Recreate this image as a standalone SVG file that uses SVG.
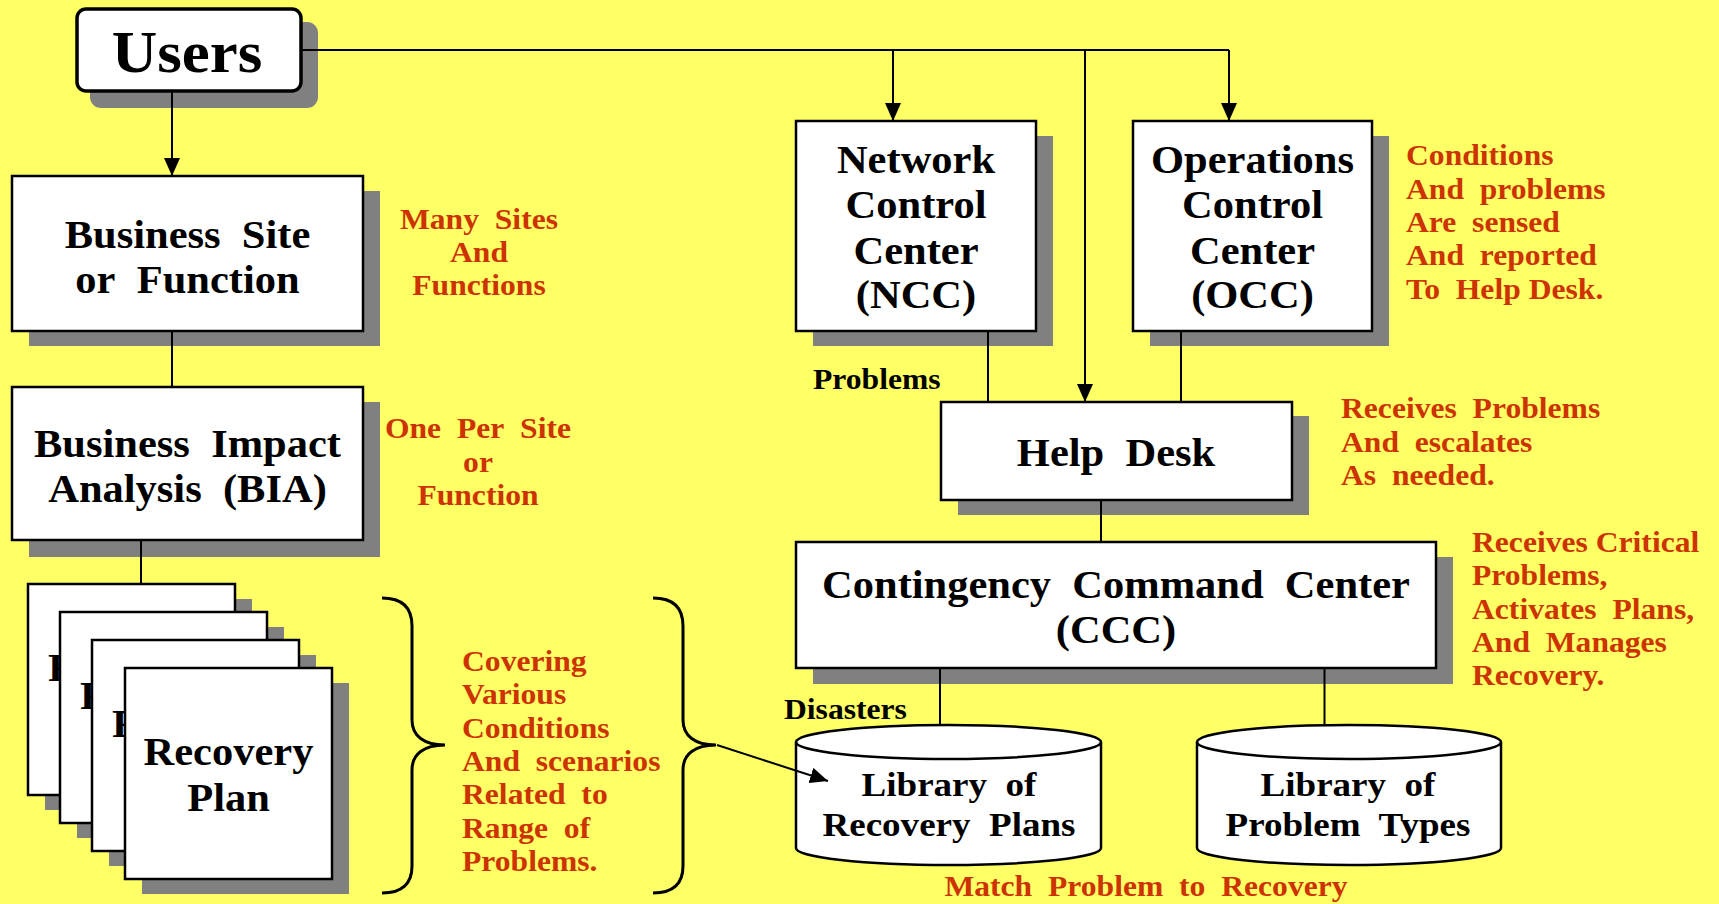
<svg xmlns="http://www.w3.org/2000/svg" width="1719" height="904" viewBox="0 0 1719 904">
<style>
text { font-family: "Liberation Serif", "Times New Roman", serif; font-weight: bold; }
.box { fill: #ffffff; stroke: #000000; stroke-width: 2.5; }
.shadow { fill: #808080; }
.bt { font-size: 39px; text-anchor: middle; fill: #000000; }
.ct { font-size: 34px; text-anchor: middle; fill: #000000; }
.red { font-size: 29px; fill: #CC3300; }
.mid { text-anchor: middle; }
.lbl { font-size: 29px; fill: #000000; }
.conn { stroke: #000000; stroke-width: 2; fill: none; }
.brace { stroke: #000000; stroke-width: 3; fill: none; }
</style>
<defs>
<marker id="ah" markerUnits="userSpaceOnUse" markerWidth="18" markerHeight="16" refX="18" refY="8" orient="auto"><path d="M0,0 L18,8 L0,16 Z" fill="#000000"/></marker>
</defs>
<rect x="0" y="0" width="1719" height="904" fill="#FFFF66"/>

<g id="users">
<rect x="90" y="22" width="228" height="86" rx="11" class="shadow"/>
<rect x="77" y="9" width="224" height="82" rx="9" fill="#ffffff" stroke="#000000" stroke-width="3.5"/>
<g transform="translate(187,0) scale(1.05,1)"><text x="0" y="72" style="font-size:60px;text-anchor:middle">Users</text></g>
</g>

<g id="business-site">
<rect x="29" y="191" width="351" height="155" class="shadow"/>
<rect x="12" y="176" width="351" height="155" class="box"/>
<g transform="translate(187.5,0) scale(1.09,1)"><text x="0" y="248" class="bt">Business&#160; Site</text><text x="0" y="293" class="bt">or&#160; Function</text></g>
</g>

<g id="bia">
<rect x="29" y="402" width="351" height="155" class="shadow"/>
<rect x="12" y="387" width="351" height="153" class="box"/>
<g transform="translate(187.5,0) scale(1.09,1)"><text x="0" y="457" class="bt">Business&#160; Impact</text><text x="0" y="502" class="bt">Analysis&#160; (BIA)</text></g>
</g>

<g id="recovery-plan-1">
<rect x="45" y="599" width="207" height="211" class="shadow"/>
<rect x="28" y="584" width="207" height="211" class="box" stroke-width="2"/>
<g transform="translate(48,0) scale(1.09,1)"><text x="0" y="681" style="font-size:39px">R</text></g>
</g>
<g id="recovery-plan-2">
<rect x="77" y="627" width="207" height="211" class="shadow"/>
<rect x="60" y="612" width="207" height="211" class="box" stroke-width="2"/>
<g transform="translate(80,0) scale(1.09,1)"><text x="0" y="709" style="font-size:39px">R</text></g>
</g>
<g id="recovery-plan-3">
<rect x="109" y="655" width="207" height="211" class="shadow"/>
<rect x="92" y="640" width="207" height="211" class="box" stroke-width="2"/>
<g transform="translate(112,0) scale(1.09,1)"><text x="0" y="737" style="font-size:39px">R</text></g>
</g>
<g id="recovery-plan-4">
<rect x="142" y="683" width="207" height="211" class="shadow"/>
<rect x="125" y="668" width="207" height="211" class="box" stroke-width="2"/>
<g transform="translate(228.5,0) scale(1.09,1)"><text x="0" y="765" class="bt">Recovery</text><text x="0" y="811" class="bt">Plan</text></g>
</g>

<g id="note-many-sites">
<g transform="translate(479,0) scale(1.09,1)"><text x="0" y="229" class="red mid">Many&#160; Sites</text><text x="0" y="262" class="red mid">And</text><text x="0" y="295" class="red mid">Functions</text></g>
</g>
<g id="note-one-per-site">
<g transform="translate(478,0) scale(1.09,1)"><text x="0" y="438" class="red mid">One&#160; Per&#160; Site</text><text x="0" y="472" class="red mid">or</text><text x="0" y="505" class="red mid">Function</text></g>
</g>

<g id="braces">
<path class="brace" d="M382,598 C400,598 412,606 412,626 L412,720 C412,736 424,745 445,745 C424,745 412,754 412,770 L412,866 C412,886 400,893 382,893"/>
<path class="brace" d="M653,598 C671,598 683,606 683,626 L683,720 C683,736 695,745 716,745 C695,745 683,754 683,770 L683,866 C683,886 671,893 653,893"/>
</g>
<g id="note-covering">
<g transform="translate(462,0) scale(1.09,1)">
<text x="0" y="671" class="red">Covering</text>
<text x="0" y="704" class="red">Various</text>
<text x="0" y="738" class="red">Conditions</text>
<text x="0" y="771" class="red">And&#160; scenarios</text>
<text x="0" y="804" class="red">Related&#160; to</text>
<text x="0" y="838" class="red">Range&#160; of</text>
<text x="0" y="871" class="red">Problems.</text>
</g>
</g>

<g id="ncc">
<rect x="813" y="136" width="240" height="210" class="shadow"/>
<rect x="796" y="121" width="240" height="210" class="box"/>
<g transform="translate(916,0) scale(1.09,1)"><text x="0" y="173" class="bt">Network</text><text x="0" y="218" class="bt">Control</text><text x="0" y="264" class="bt">Center</text><text x="0" y="308" class="bt">(NCC)</text></g>
</g>

<g id="occ">
<rect x="1150" y="136" width="239" height="210" class="shadow"/>
<rect x="1133" y="121" width="239" height="210" class="box"/>
<g transform="translate(1252.5,0) scale(1.09,1)"><text x="0" y="173" class="bt">Operations</text><text x="0" y="218" class="bt">Control</text><text x="0" y="264" class="bt">Center</text><text x="0" y="308" class="bt">(OCC)</text></g>
</g>

<g id="note-conditions">
<g transform="translate(1406,0) scale(1.09,1)">
<text x="0" y="165" class="red">Conditions</text>
<text x="0" y="199" class="red">And&#160; problems</text>
<text x="0" y="232" class="red">Are&#160; sensed</text>
<text x="0" y="265" class="red">And&#160; reported</text>
<text x="0" y="299" class="red">To&#160; Help Desk.</text>
</g>
</g>

<g id="help-desk">
<rect x="958" y="416" width="351" height="99" class="shadow"/>
<rect x="941" y="402" width="351" height="98" class="box"/>
<g transform="translate(1116,0) scale(1.09,1)"><text x="0" y="466" class="bt">Help&#160; Desk</text></g>
</g>

<g id="note-receives-problems">
<g transform="translate(1341,0) scale(1.09,1)">
<text x="0" y="418" class="red">Receives&#160; Problems</text>
<text x="0" y="452" class="red">And&#160; escalates</text>
<text x="0" y="485" class="red">As&#160; needed.</text>
</g>
</g>

<g id="ccc">
<rect x="813" y="557" width="640" height="127" class="shadow"/>
<rect x="796" y="542" width="640" height="126" class="box"/>
<g transform="translate(1116,0) scale(1.09,1)"><text x="0" y="598" class="bt">Contingency&#160; Command&#160; Center</text><text x="0" y="643" class="bt">(CCC)</text></g>
</g>

<g id="note-receives-critical">
<g transform="translate(1472,0) scale(1.09,1)">
<text x="0" y="552" class="red">Receives Critical</text>
<text x="0" y="585" class="red">Problems,</text>
<text x="0" y="619" class="red">Activates&#160; Plans,</text>
<text x="0" y="652" class="red">And&#160; Manages</text>
<text x="0" y="685" class="red">Recovery.</text>
</g>
</g>

<g id="library-recovery-plans">
<path d="M796,742 A152.5,17 0 0 1 1101,742 L1101,848 A152.5,17 0 0 1 796,848 Z" fill="#ffffff" stroke="#000000" stroke-width="2.5"/>
<path d="M796,742 A152.5,17 0 0 0 1101,742" fill="none" stroke="#000000" stroke-width="2.5"/>
<g transform="translate(949,0) scale(1.09,1)"><text x="0" y="796" class="ct">Library&#160; of</text><text x="0" y="836" class="ct">Recovery&#160; Plans</text></g>
</g>

<g id="library-problem-types">
<path d="M1197,742 A152,17 0 0 1 1501,742 L1501,848 A152,17 0 0 1 1197,848 Z" fill="#ffffff" stroke="#000000" stroke-width="2.5"/>
<path d="M1197,742 A152,17 0 0 0 1501,742" fill="none" stroke="#000000" stroke-width="2.5"/>
<g transform="translate(1348,0) scale(1.09,1)"><text x="0" y="796" class="ct">Library&#160; of</text><text x="0" y="836" class="ct">Problem&#160; Types</text></g>
</g>

<g id="note-match">
<g transform="translate(1146,0) scale(1.09,1)"><text x="0" y="896" class="red mid">Match&#160; Problem&#160; to&#160; Recovery</text></g>
</g>

<g id="connectors">
<path class="conn" d="M172,92 L172,176" marker-end="url(#ah)"/>
<path class="conn" d="M301,50 L1229,50"/>
<path class="conn" d="M893,50 L893,121" marker-end="url(#ah)"/>
<path class="conn" d="M1085,50 L1085,402" marker-end="url(#ah)"/>
<path class="conn" d="M1229,50 L1229,121" marker-end="url(#ah)"/>
<path class="conn" d="M988,331 L988,402"/>
<path class="conn" d="M1181,331 L1181,402"/>
<path class="conn" d="M1101,500 L1101,542"/>
<path class="conn" d="M940,668 L940,725"/>
<path class="conn" d="M1324.5,668 L1324.5,725"/>
<path class="conn" d="M172,331 L172,387"/>
<path class="conn" d="M141,540 L141,584"/>
<path class="conn" d="M717,745 L828,781" marker-end="url(#ah)"/>
<g transform="translate(813,0) scale(1.09,1)"><text x="0" y="389" class="lbl">Problems</text></g>
<g transform="translate(784,0) scale(1.09,1)"><text x="0" y="719" class="lbl">Disasters</text></g>
</g>
</svg>
